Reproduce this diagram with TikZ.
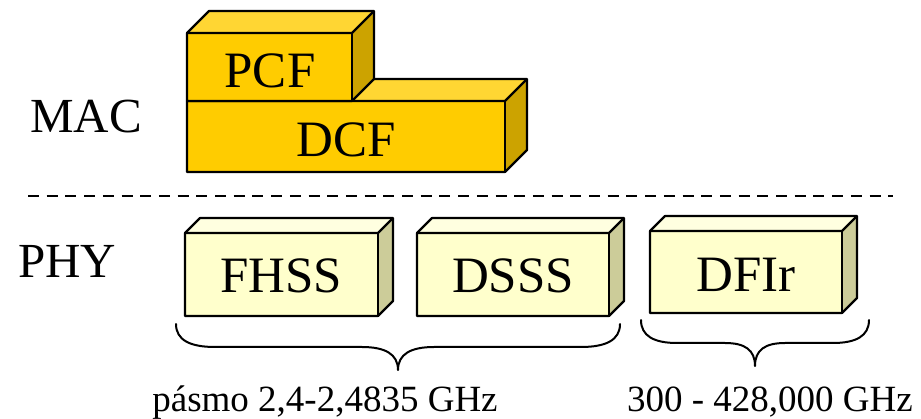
\documentclass[tikz,border=0pt]{standalone}
\usepackage{fontspec}
\setmainfont{Liberation Serif}
\definecolor{macfront}{RGB}{255,204,0}
\definecolor{mactop}{RGB}{255,214,51}
\definecolor{macside}{RGB}{204,163,0}
\definecolor{phyfront}{RGB}{255,255,204}
\definecolor{phytop}{RGB}{255,255,224}
\definecolor{physide}{RGB}{204,204,153}
% cuboid: #1,#2 front top-left; #3,#4 front bottom-right; #5 depth; #6 front, #7 top, #8 side colour
\newcommand\drawcuboid[8]{%
  \fill[#7] (#1,#2) -- ++(#5,-#5) -- ({#3+#5},{#2-#5}) -- (#3,#2) -- cycle;
  \fill[#8] (#3,#2) -- ({#3+#5},{#2-#5}) -- ({#3+#5},{#4-#5}) -- (#3,#4) -- cycle;
  \fill[#6] (#1,#2) rectangle (#3,#4);
  \draw[boxline] (#1,#2) -- ++(#5,-#5) -- ({#3+#5},{#2-#5}) -- ({#3+#5},{#4-#5}) -- (#3,#4)
     -- (#1,#4) -- cycle;
  \draw[boxline] (#1,#2) -- (#3,#2) -- ({#3+#5},{#2-#5});
  \draw[boxline] (#3,#2) -- (#3,#4);
}
\begin{document}
\begin{tikzpicture}[x=1pt,y=-1pt,
  boxline/.style={line width=2.2pt,line join=round,black},
  boxtext/.style={font=\fontsize{51}{51}\selectfont,anchor=base,inner sep=0pt},
  layertext/.style={font=\fontsize{49}{49}\selectfont,anchor=base west,inner sep=0pt},
  bandtext/.style={font=\fontsize{37}{37}\selectfont,anchor=base,inner sep=0pt},
  brace/.style={line width=2pt,line join=round,line cap=round}]
\useasboundingbox (0,0) rectangle (921,419);

% MAC layer
\drawcuboid{187}{101}{505}{172}{22}{macfront}{mactop}{macside}
\drawcuboid{187}{33}{352}{101}{22}{macfront}{mactop}{macside}
\node[boxtext] (pcf) at (270,88) {PCF};
\node[boxtext] (dcf) at (346,157) {DCF};
\node[layertext] (mac) at (30,133) {MAC};

% layer separator
\coordinate (sepL) at (28,196);
\coordinate (sepR) at (893,196);
\draw[line width=2pt,dash pattern=on 11pt off 7.7pt] (sepL) -- (sepR);

% PHY layer
\drawcuboid{185}{233}{378}{316}{15}{phyfront}{phytop}{physide}
\drawcuboid{417}{233}{609}{316}{15}{phyfront}{phytop}{physide}
\drawcuboid{650}{231}{842}{313}{15}{phyfront}{phytop}{physide}
\node[boxtext] (fhss) at (281,293) {FHSS};
\node[boxtext] (dsss) at (513,293) {DSSS};
\node[boxtext] (dfir) at (746,292) {DFIr};
\node[layertext] (phy) at (18,278) {PHY};

% frequency bands
\draw[brace] (176,324) .. controls (176,340) and (190,347) .. (215,347) -- (362,347)
  .. controls (385,347) and (398,354) .. (398,370)
  .. controls (398,354) and (411,347) .. (434,347) -- (581,347)
  .. controls (606,347) and (620,340) .. (620,324);
\draw[brace] (641,320) .. controls (641,336) and (654,343) .. (677,343) -- (725,343)
  .. controls (745,343) and (755,350) .. (755,366)
  .. controls (755,350) and (765,343) .. (785,343) -- (833,343)
  .. controls (856,343) and (869,336) .. (869,320);
\node[bandtext] (ism) at (325,412) {pásmo 2,4-2,4835 GHz};
\node[bandtext] (ir) at (770,412) {300 - 428,000 GHz};
\end{tikzpicture}
\end{document}
